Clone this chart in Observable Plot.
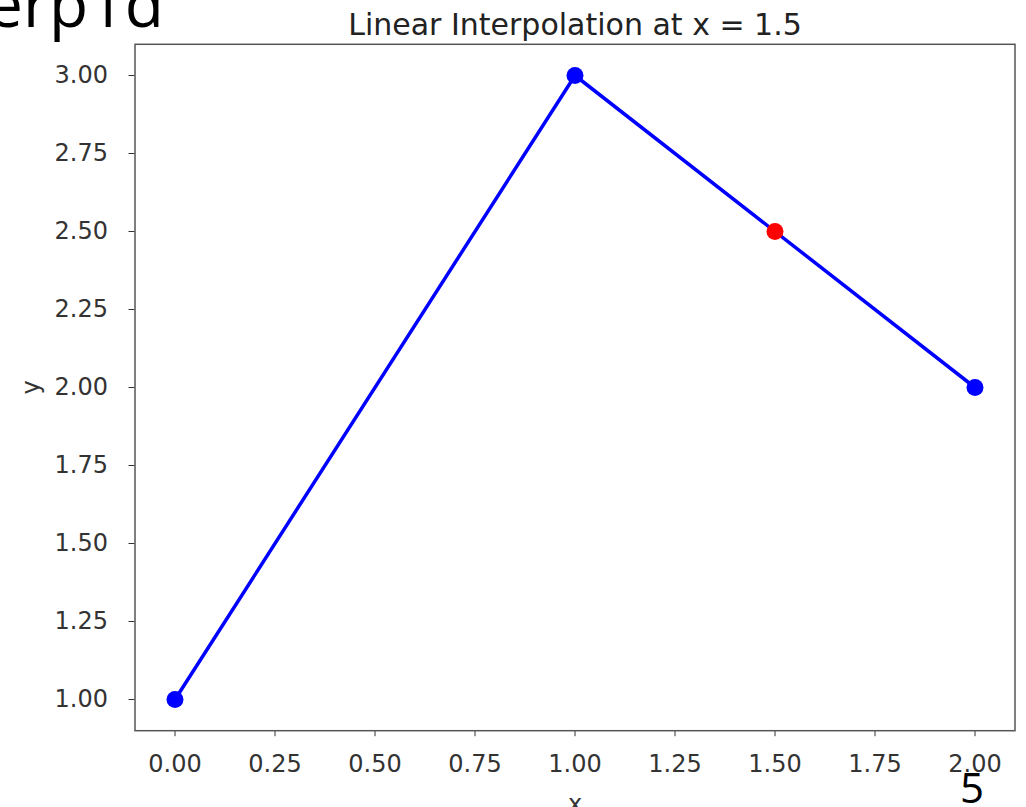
<!DOCTYPE html>
<html>
<head>
<meta charset="utf-8">
<script src="https://cdn.jsdelivr.net/npm/d3@7"></script>
<script src="https://cdn.jsdelivr.net/npm/@observablehq/plot@0.6"></script>
<style>
  html, body { margin: 0; padding: 0; background: #fff; overflow: hidden; }
  #wrap { position: relative; width: 1026px; height: 807px; overflow: hidden; }
  .slide { position: absolute; font-family: "Open Sans", "DejaVu Sans", sans-serif; color: #000; white-space: nowrap; line-height: 1; }
  #heading { right: 862px; top: -29px; font-size: 64px; }
  #pagenum { left: 960px; top: 766px; font-size: 42px; }
</style>
</head>
<body>
<div id="wrap">
  <div id="chart"></div>
  <div id="heading" class="slide">interp1d</div>
  <div id="pagenum" class="slide">5</div>
</div>
<script>
const knownX = [0, 1, 2];
const knownY = [1, 3, 2];
const queryX = [1.5];
const queryY = [2.5];
const xTicks = [0, 0.25, 0.5, 0.75, 1, 1.25, 1.5, 1.75, 2];
const yTicks = [1, 1.25, 1.5, 1.75, 2, 2.25, 2.5, 2.75, 3];
const title = "Linear Interpolation at x = 1.5";

const known = knownX.map((x, i) => ({x, y: knownY[i]}));
const query = queryX.map((x, i) => ({x, y: queryY[i]}));

const fmt = d3.format(".2f");
const chart = Plot.plot({
  width: 1026,
  height: 807,
  marginLeft: 134.5,
  marginRight: 11.5,
  marginTop: 43.8,
  marginBottom: 76.8,
  style: {fontFamily: "DejaVu Sans, sans-serif", fontSize: "24px", color: "#333", background: "#fff", overflow: "visible"},
  x: {domain: [-0.1, 2.1], ticks: xTicks, tickFormat: fmt, label: "x", labelAnchor: "center", labelArrow: "none", tickSize: 6, tickPadding: 18, labelOffset: 81},
  y: {domain: [0.9, 3.1], ticks: yTicks, tickFormat: fmt, label: "y", labelAnchor: "center", labelArrow: "none", tickSize: 6, tickPadding: 21, labelOffset: 113},
  marks: [
    Plot.frame({stroke: "#555", strokeWidth: 1.5}),
    Plot.line(known, {x: "x", y: "y", stroke: "#0000ff", strokeWidth: 3.5}),
    Plot.dot(known, {x: "x", y: "y", r: 8.5, fill: "#0000ff", stroke: "none"}),
    Plot.dot(query, {x: "x", y: "y", r: 8.5, fill: "#ff0000", stroke: "none"}),
    Plot.text([title], {frameAnchor: "top", dy: -19.4, text: d => d, fontSize: 30, fill: "#222", lineAnchor: "middle"})
  ]
});
document.getElementById("chart").appendChild(chart);
</script>
</body>
</html>
